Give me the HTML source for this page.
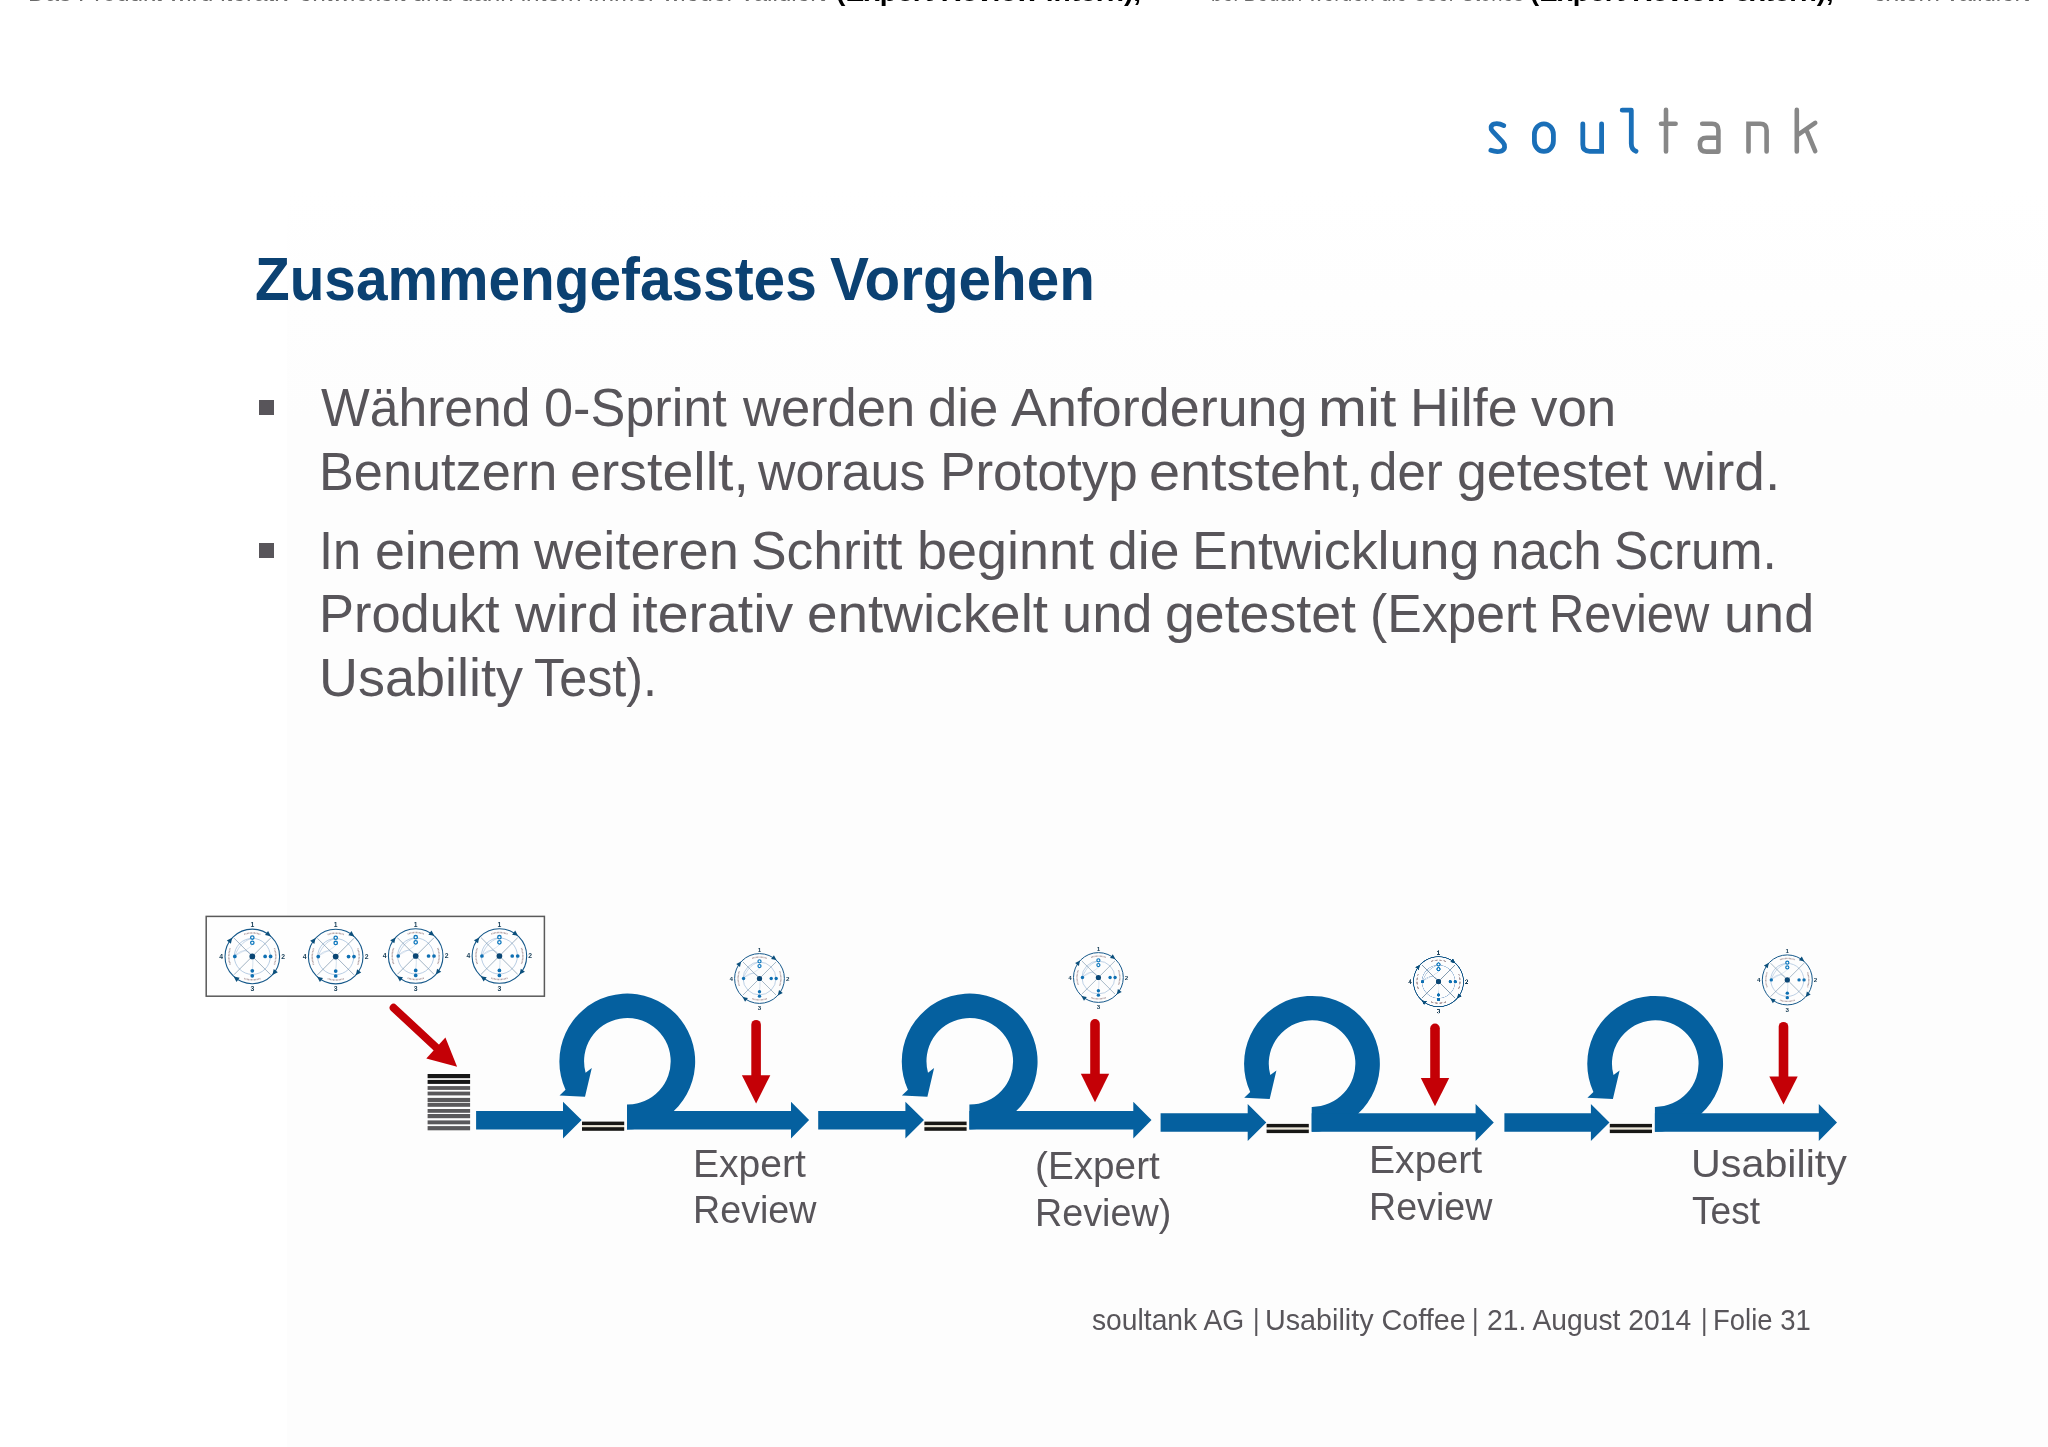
<!DOCTYPE html>
<html lang="de">
<head>
<meta charset="utf-8">
<title>Zusammengefasstes Vorgehen</title>
<style>
html,body{margin:0;padding:0;}
body{width:2048px;height:1447px;position:relative;overflow:hidden;background:#ffffff;font-family:"Liberation Sans",sans-serif;}
#tint{position:absolute;left:287px;top:190px;width:1761px;height:1257px;background:linear-gradient(to bottom,#ffffff 0,#fefefe 110px,#fdfdfd 230px);}
.t{position:absolute;white-space:nowrap;line-height:1;transform-origin:0 0;color:#58555a;}
.bul{position:absolute;left:258.5px;width:15.5px;height:15px;background:#58555a;}
#txt{position:absolute;left:0;top:0;width:2048px;height:1447px;will-change:transform;}
svg{position:absolute;left:0;top:0;will-change:transform;}
</style>
</head>
<body>
<div id="tint"></div>

<div id="txt">
<div class="bul" style="top:400px"></div>
<div class="bul" style="top:543px"></div>
<div class="t" style="left:28.13px;top:-21.11px;font-size:26px;color:#6a6a6a;transform:scaleX(0.9366);">Das Produkt wird iterativ entwickelt und dann intern immer wieder validiert</div>
<div class="t" style="left:835.72px;top:-21.11px;font-size:26px;color:#000;transform:scaleX(1.0830);font-weight:bold;">(Expert Review intern),</div>
<div class="t" style="left:1211.22px;top:-21.11px;font-size:26px;color:#6a6a6a;transform:scaleX(0.7757);">bei Bedarf werden die User Stories</div>
<div class="t" style="left:1530.24px;top:-21.11px;font-size:26px;color:#000;transform:scaleX(1.0556);font-weight:bold;">(Expert Review extern),</div>
<div class="t" style="left:1873.08px;top:-21.11px;font-size:26px;color:#6a6a6a;transform:scaleX(0.9239);">extern validiert</div>
<div class="t" style="left:254.57px;top:248.66px;font-size:61px;color:#0b4172;transform:scaleX(0.9308);font-weight:bold;">Zusammengefasstes</div>
<div class="t" style="left:829.90px;top:248.66px;font-size:61px;color:#0b4172;transform:scaleX(0.9567);font-weight:bold;">Vorgehen</div>
<div class="t" style="left:321.10px;top:381.34px;font-size:53px;color:#58555a;transform:scaleX(0.9742);">Während</div>
<div class="t" style="left:543.63px;top:381.34px;font-size:53px;color:#58555a;transform:scaleX(0.9850);">0-Sprint</div>
<div class="t" style="left:743.29px;top:381.34px;font-size:53px;color:#58555a;transform:scaleX(0.9904);">werden</div>
<div class="t" style="left:928.41px;top:381.34px;font-size:53px;color:#58555a;transform:scaleX(0.9933);">die</div>
<div class="t" style="left:1011.00px;top:381.34px;font-size:53px;color:#58555a;transform:scaleX(1.0165);">Anforderung</div>
<div class="t" style="left:1317.67px;top:381.34px;font-size:53px;color:#58555a;transform:scaleX(1.1086);">mit</div>
<div class="t" style="left:1410.44px;top:381.34px;font-size:53px;color:#58555a;transform:scaleX(1.0144);">Hilfe</div>
<div class="t" style="left:1531.40px;top:381.34px;font-size:53px;color:#58555a;transform:scaleX(0.9979);">von</div>
<div class="t" style="left:319.05px;top:445.14px;font-size:53px;color:#58555a;transform:scaleX(0.9863);">Benutzern</div>
<div class="t" style="left:569.51px;top:445.14px;font-size:53px;color:#58555a;transform:scaleX(1.0469);">erstellt,</div>
<div class="t" style="left:758.08px;top:445.14px;font-size:53px;color:#58555a;transform:scaleX(0.9803);">woraus</div>
<div class="t" style="left:939.79px;top:445.14px;font-size:53px;color:#58555a;transform:scaleX(1.0021);">Prototyp</div>
<div class="t" style="left:1148.79px;top:445.14px;font-size:53px;color:#58555a;transform:scaleX(1.0535);">entsteht,</div>
<div class="t" style="left:1369.07px;top:445.14px;font-size:53px;color:#58555a;transform:scaleX(0.9628);">der</div>
<div class="t" style="left:1456.87px;top:445.14px;font-size:53px;color:#58555a;transform:scaleX(1.0126);">getestet</div>
<div class="t" style="left:1664.04px;top:445.14px;font-size:53px;color:#58555a;transform:scaleX(1.0381);">wird.</div>
<div class="t" style="left:319.18px;top:523.64px;font-size:53px;color:#58555a;transform:scaleX(0.9543);">In</div>
<div class="t" style="left:374.77px;top:523.64px;font-size:53px;color:#58555a;transform:scaleX(1.0129);">einem</div>
<div class="t" style="left:533.62px;top:523.64px;font-size:53px;color:#58555a;transform:scaleX(1.0229);">weiteren</div>
<div class="t" style="left:751.38px;top:523.64px;font-size:53px;color:#58555a;transform:scaleX(1.0076);">Schritt</div>
<div class="t" style="left:917.35px;top:523.64px;font-size:53px;color:#58555a;transform:scaleX(1.0172);">beginnt</div>
<div class="t" style="left:1108.08px;top:523.64px;font-size:53px;color:#58555a;transform:scaleX(1.0097);">die</div>
<div class="t" style="left:1192.43px;top:523.64px;font-size:53px;color:#58555a;transform:scaleX(1.0165);">Entwicklung</div>
<div class="t" style="left:1490.51px;top:523.64px;font-size:53px;color:#58555a;transform:scaleX(0.9630);">nach</div>
<div class="t" style="left:1613.56px;top:523.64px;font-size:53px;color:#58555a;transform:scaleX(0.9694);">Scrum.</div>
<div class="t" style="left:319.04px;top:587.44px;font-size:53px;color:#58555a;transform:scaleX(0.9892);">Produkt</div>
<div class="t" style="left:515.17px;top:587.44px;font-size:53px;color:#58555a;transform:scaleX(1.0658);">wird</div>
<div class="t" style="left:629.66px;top:587.44px;font-size:53px;color:#58555a;transform:scaleX(1.0462);">iterativ</div>
<div class="t" style="left:807.03px;top:587.44px;font-size:53px;color:#58555a;transform:scaleX(1.0360);">entwickelt</div>
<div class="t" style="left:1062.23px;top:587.44px;font-size:53px;color:#58555a;transform:scaleX(1.0235);">und</div>
<div class="t" style="left:1164.87px;top:587.44px;font-size:53px;color:#58555a;transform:scaleX(1.0126);">getestet</div>
<div class="t" style="left:1369.87px;top:587.44px;font-size:53px;color:#58555a;transform:scaleX(0.9756);">(Expert</div>
<div class="t" style="left:1549.11px;top:587.44px;font-size:53px;color:#58555a;transform:scaleX(0.9226);">Review</div>
<div class="t" style="left:1723.74px;top:587.44px;font-size:53px;color:#58555a;transform:scaleX(1.0199);">und</div>
<div class="t" style="left:318.93px;top:651.44px;font-size:53px;color:#58555a;transform:scaleX(1.0184);">Usability</div>
<div class="t" style="left:533.55px;top:651.44px;font-size:53px;color:#58555a;transform:scaleX(0.9495);">Test).</div>
<div class="t" style="left:692.92px;top:1144.83px;font-size:38px;color:#58555a;transform:scaleX(1.0273);">Expert</div>
<div class="t" style="left:693.03px;top:1191.23px;font-size:38px;color:#58555a;transform:scaleX(0.9914);">Review</div>
<div class="t" style="left:1034.76px;top:1146.63px;font-size:38px;color:#58555a;transform:scaleX(1.0188);">(Expert</div>
<div class="t" style="left:1035.02px;top:1193.83px;font-size:38px;color:#58555a;transform:scaleX(0.9925);">Review)</div>
<div class="t" style="left:1368.51px;top:1141.43px;font-size:38px;color:#58555a;transform:scaleX(1.0292);">Expert</div>
<div class="t" style="left:1368.63px;top:1187.93px;font-size:38px;color:#58555a;transform:scaleX(0.9906);">Review</div>
<div class="t" style="left:1690.63px;top:1145.13px;font-size:38px;color:#58555a;transform:scaleX(1.0862);">Usability</div>
<div class="t" style="left:1691.60px;top:1192.13px;font-size:38px;color:#58555a;transform:scaleX(0.9767);">Test</div>
<div class="t" style="left:1092.20px;top:1304.63px;font-size:29.5px;color:#58555a;transform:scaleX(0.9569);">soultank AG</div>
<div class="t" style="left:1252.50px;top:1304.63px;font-size:29.5px;color:#58555a;transform:scaleX(0.8500);">|</div>
<div class="t" style="left:1264.85px;top:1304.63px;font-size:29.5px;color:#58555a;transform:scaleX(0.9742);">Usability Coffee</div>
<div class="t" style="left:1472.40px;top:1304.63px;font-size:29.5px;color:#58555a;transform:scaleX(0.8500);">|</div>
<div class="t" style="left:1487.34px;top:1304.63px;font-size:29.5px;color:#58555a;transform:scaleX(0.9571);">21. August 2014</div>
<div class="t" style="left:1700.90px;top:1304.63px;font-size:29.5px;color:#58555a;transform:scaleX(0.8500);">|</div>
<div class="t" style="left:1713.34px;top:1304.63px;font-size:29.5px;color:#58555a;transform:scaleX(0.9316);">Folie 31</div>
</div>
<svg id="gfx" width="2048" height="1447" viewBox="0 0 2048 1447">
<defs><symbol id="ic" viewBox="-150 -150 300 300" overflow="visible">
<g fill="none" stroke="#97b6d6" stroke-width="2.5">
<circle r="66"/>
<path d="M-64,0 C-50,-45 -20,-62 0,-66" opacity=".8"/>
<path d="M-64,0 C-40,-30 -10,-25 0,0" opacity=".7"/>
<path d="M-64,-2 C-30,-20 10,-40 0,-50" opacity=".5"/>
<path d="M0,0 C5,25 0,40 0,53" opacity=".6"/>
</g>
<g stroke="#62809b" stroke-width="2.2"><line x1="-67" y1="-67" x2="67" y2="67"/><line x1="67" y1="-67" x2="-67" y2="67"/></g>
<g fill="none" stroke="#8d7478" stroke-width="5.5" stroke-dasharray="3 2.2" opacity=".75">
<path d="M-29.4,-80.8 A86,86 0 0 1 29.4,-80.8"/>
<path d="M80.8,-29.4 A86,86 0 0 1 80.8,29.4"/>
<path d="M29.4,80.8 A86,86 0 0 1 -29.4,80.8"/>
<path d="M-80.8,29.4 A86,86 0 0 1 -80.8,-29.4"/>
</g>
<circle r="100" fill="none" stroke="#15588a" stroke-width="4"/>
<path d="M-10,-9.5 L10,0 L-10,9.5 Z" fill="#0b4f7c" transform="rotate(-53) translate(100,0) rotate(90)"/>
<path d="M-10,-9.5 L10,0 L-10,9.5 Z" fill="#0b4f7c" transform="rotate(37) translate(100,0) rotate(90)"/>
<path d="M-10,-9.5 L10,0 L-10,9.5 Z" fill="#0b4f7c" transform="rotate(127) translate(100,0) rotate(90)"/>
<path d="M-10,-9.5 L10,0 L-10,9.5 Z" fill="#0b4f7c" transform="rotate(217) translate(100,0) rotate(90)"/>
<circle r="10.5" fill="#0a4674"/>
<g fill="#0f70b3">
<circle cx="47" cy="0" r="6.8"/>
<circle cx="67" cy="0" r="6.8"/>
<circle cx="0" cy="53" r="6.8"/>
<circle cx="0" cy="71" r="6.8"/>
<circle cx="-64" cy="0" r="6.8"/>
</g>
<g fill="#fff" stroke="#0f78be" stroke-width="4.8"><circle cx="0" cy="-69" r="6.2"/><circle cx="0" cy="-50" r="6.2"/></g>
<g font-family="Liberation Sans, sans-serif" font-weight="bold" font-size="25" fill="#1a4059" text-anchor="middle">
<text x="0" y="-107.5">1</text><text x="113" y="9">2</text><text x="0" y="126.5">3</text><text x="-114" y="9">4</text>
</g>
</symbol></defs>
<g fill="none" stroke-linecap="round" stroke-linejoin="round" stroke-width="4.8">
<g stroke="#1a6fb8">
<path d="M1503.8,125.6 C1500,123.6 1496,123.4 1494,124 C1490.5,125.2 1490.2,128.8 1492.5,131.2 L1502.8,142.2 C1505.6,145.3 1505.2,149.6 1501.5,150.9 C1498.5,151.9 1494.5,151.6 1490.9,150.3"/>
<rect x="1534.4" y="123.8" width="19" height="27.6" rx="9.5" ry="10.5"/>
<path d="M1582.8,123.8 V144.5 Q1582.8,151.3 1589.6,151.3 H1601.6 V123.8" stroke-linejoin="miter"/>
<path d="M1622.2,110.2 H1631.3 V143.5 Q1631.3,149.5 1636,151.2"/>
</g>
<g stroke="#878787" stroke-width="4.6">
<path d="M1666,109.9 V151.5 M1661,123.8 H1675.6"/>
<path d="M1702.2,123.8 H1712 Q1718.4,123.8 1718.4,130.2 V151.6 H1706.6 Q1699.9,151.6 1699.9,144.9 V144.4 Q1699.9,137.7 1706.6,137.7 H1718.4"/>
<path d="M1748.5,151.5 V123.8 H1760.2 Q1766.6,123.8 1766.6,130.2 V151.5" stroke-linejoin="miter"/>
<path d="M1796.8,109.9 V151.5 M1815.2,122.9 L1797.8,134.9 M1807,131.4 L1815.2,151.1"/>
</g></g>
<rect x="206.2" y="916.4" width="338.2" height="79.8" fill="#fefefe" stroke="#5a5a5a" stroke-width="1.5"/>
<use href="#ic" x="211.35" y="915.45" width="81.90" height="81.90" preserveAspectRatio="none"/>
<use href="#ic" x="294.75" y="915.65" width="81.90" height="81.90" preserveAspectRatio="none"/>
<use href="#ic" x="374.75" y="915.05" width="81.90" height="81.90" preserveAspectRatio="none"/>
<use href="#ic" x="458.45" y="915.05" width="81.90" height="81.90" preserveAspectRatio="none"/>
<line x1="393.6" y1="1007.8" x2="438" y2="1049.2" stroke="#c40006" stroke-width="7.9" stroke-linecap="round"/>
<polygon points="445.4,1037.6 457.1,1066.8 426.3,1058.6" fill="#c40006"/>
<rect x="427.6" y="1074.0" width="42.5" height="4.2" fill="#161616"/>
<rect x="427.6" y="1079.9" width="42.5" height="4.0" fill="#161616"/>
<rect x="427.6" y="1086.1" width="42.5" height="3.8" fill="#5a595b"/>
<rect x="427.6" y="1091.6" width="42.5" height="3.8" fill="#5a595b"/>
<rect x="427.6" y="1097.9" width="42.5" height="4.1" fill="#5a595b"/>
<rect x="427.6" y="1102.8" width="42.5" height="4.0" fill="#5a595b"/>
<rect x="427.6" y="1109.0" width="42.5" height="3.8" fill="#5a595b"/>
<rect x="427.6" y="1114.0" width="42.5" height="4.2" fill="#5a595b"/>
<rect x="427.6" y="1120.4" width="42.5" height="3.9" fill="#5a595b"/>
<rect x="427.6" y="1126.1" width="42.5" height="4.2" fill="#5a595b"/>
<path fill="#05609f" d="M476.1,1110.9 H563.0 V1101.7 L581.6,1120.1 L563.0,1138.6 V1129.4 H476.1 Z"/>
<rect x="582.0" y="1121.6" width="42.2" height="3.7" fill="#181715"/>
<rect x="582.0" y="1127.1" width="42.2" height="3.7" fill="#181715"/>
<rect x="582.0" y="1125.3" width="42.2" height="1.8" fill="#ece6d6"/>
<path fill="#05609f" d="M627.0,1129.4 A67.9,67.9 0 1 0 565.5,1089.7 L559.5,1095.4 L585.0,1096.8 L591.8,1068.1 L585.6,1072.7 A43.3,43.3 0 1 1 627.0,1104.6 Z"/>
<path fill="#05609f" d="M627.0,1110.9 H791.0 V1101.7 L809.1,1120.1 L791.0,1138.6 V1129.4 H627.0 Z"/>
<use href="#ic" x="722.15" y="939.50" width="74.70" height="78.00" preserveAspectRatio="none"/>
<line x1="756.1" y1="1024.7" x2="756.1" y2="1076.2" stroke="#c40006" stroke-width="9.6" stroke-linecap="round"/>
<polygon points="741.9,1075.2 770.3,1075.2 756.1,1103.5" fill="#c40006"/>
<path fill="#05609f" d="M818.2,1110.9 H905.4 V1101.7 L924.0,1120.1 L905.4,1138.6 V1129.4 H818.2 Z"/>
<rect x="924.4" y="1121.6" width="42.2" height="3.7" fill="#181715"/>
<rect x="924.4" y="1127.1" width="42.2" height="3.7" fill="#181715"/>
<rect x="924.4" y="1125.3" width="42.2" height="1.8" fill="#ece6d6"/>
<path fill="#05609f" d="M969.4,1129.4 A67.9,67.9 0 1 0 907.9,1089.7 L901.9,1095.4 L927.4,1096.8 L934.1,1068.1 L928.0,1072.7 A43.3,43.3 0 1 1 969.4,1104.6 Z"/>
<path fill="#05609f" d="M969.4,1110.9 H1133.3 V1101.7 L1151.5,1120.1 L1133.3,1138.6 V1129.4 H969.4 Z"/>
<use href="#ic" x="1061.05" y="939.70" width="74.70" height="75.60" preserveAspectRatio="none"/>
<line x1="1095.0" y1="1023.9" x2="1095.0" y2="1074.8" stroke="#c40006" stroke-width="9.6" stroke-linecap="round"/>
<polygon points="1080.8,1073.8 1109.2,1073.8 1095.0,1102.2" fill="#c40006"/>
<path fill="#05609f" d="M1160.6,1113.2 H1247.7 V1104.0 L1266.3,1122.4 L1247.7,1140.9 V1131.7 H1160.6 Z"/>
<rect x="1266.6" y="1123.9" width="42.2" height="3.7" fill="#181715"/>
<rect x="1266.6" y="1129.4" width="42.2" height="3.7" fill="#181715"/>
<rect x="1266.6" y="1127.6" width="42.2" height="1.8" fill="#ece6d6"/>
<path fill="#05609f" d="M1311.7,1131.7 A67.9,67.9 0 1 0 1250.2,1092.0 L1244.2,1097.7 L1269.7,1099.1 L1276.4,1070.4 L1270.3,1075.0 A43.3,43.3 0 1 1 1311.7,1106.9 Z"/>
<path fill="#05609f" d="M1311.7,1113.2 H1475.6 V1104.0 L1493.8,1122.4 L1475.6,1140.9 V1131.7 H1311.7 Z"/>
<use href="#ic" x="1401.00" y="943.30" width="75.00" height="76.80" preserveAspectRatio="none"/>
<line x1="1435.0" y1="1028.3" x2="1435.0" y2="1079.0" stroke="#c40006" stroke-width="9.6" stroke-linecap="round"/>
<polygon points="1420.8,1078.0 1449.2,1078.0 1435.0,1106.2" fill="#c40006"/>
<path fill="#05609f" d="M1504.4,1113.2 H1590.9 V1104.0 L1609.5,1122.4 L1590.9,1140.9 V1131.7 H1504.4 Z"/>
<rect x="1609.8" y="1123.9" width="42.2" height="3.7" fill="#181715"/>
<rect x="1609.8" y="1129.4" width="42.2" height="3.7" fill="#181715"/>
<rect x="1609.8" y="1127.6" width="42.2" height="1.8" fill="#ece6d6"/>
<path fill="#05609f" d="M1654.9,1131.7 A67.9,67.9 0 1 0 1593.4,1092.0 L1587.4,1097.7 L1612.9,1099.1 L1619.6,1070.4 L1613.5,1075.0 A43.3,43.3 0 1 1 1654.9,1106.9 Z"/>
<path fill="#05609f" d="M1654.9,1113.2 H1818.8 V1104.0 L1837.0,1122.4 L1818.8,1140.9 V1131.7 H1654.9 Z"/>
<use href="#ic" x="1749.80" y="941.50" width="75.00" height="76.80" preserveAspectRatio="none"/>
<line x1="1783.5" y1="1026.7" x2="1783.5" y2="1077.6" stroke="#c40006" stroke-width="9.6" stroke-linecap="round"/>
<polygon points="1769.3,1076.6 1797.7,1076.6 1783.5,1104.5" fill="#c40006"/>
</svg>
</body>
</html>
